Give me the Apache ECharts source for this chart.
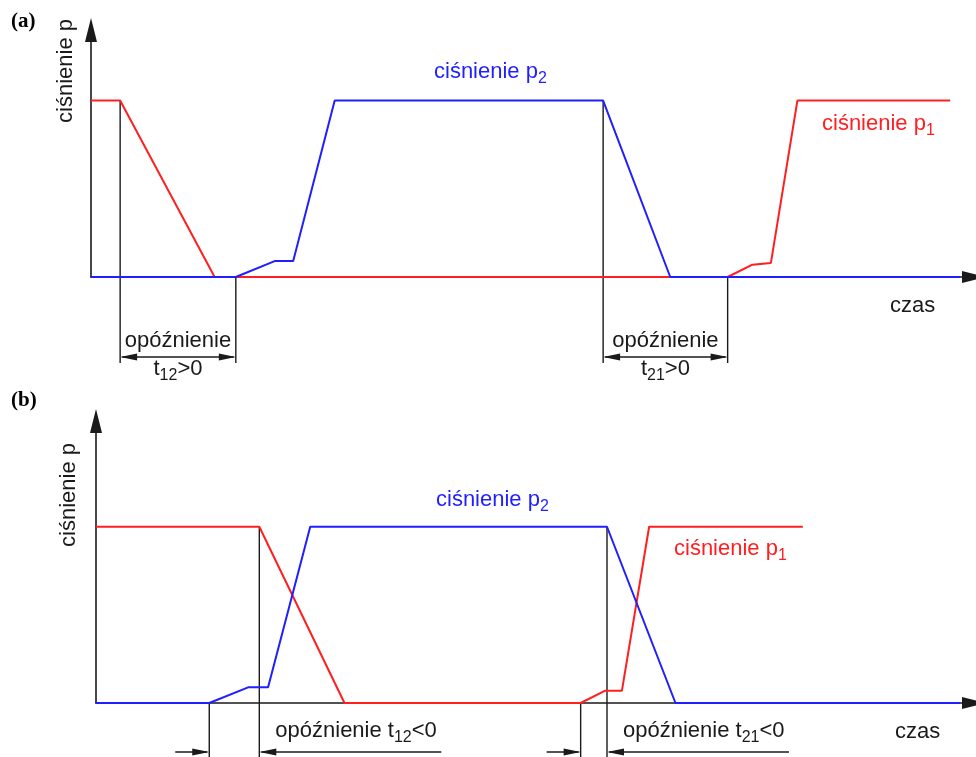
<!DOCTYPE html>
<html>
<head>
<meta charset="utf-8">
<title>ciśnienie p1 / p2 – opóźnienie przełączania</title>
<script src="https://cdn.jsdelivr.net/npm/echarts@6/dist/echarts.min.js"></script>
<style>
  html, body { margin: 0; padding: 0; background: #fff; }
  #chart { width: 976px; height: 757px; }
</style>
</head>
<body>
<div id="chart"></div>
<script>
// Time runs 0..100 (arbitrary units); pressure: 0 = low level, 1 = high level.

// (a) switching with positive delays
const p1A = [[0, 1], [3.3, 1], [14.0, 0], [72.1, 0], [74.9, 0.07], [77.0, 0.08], [80.0, 1], [97.3, 1]];
const p2A = [[0, 0], [16.4, 0], [20.8, 0.09], [22.9, 0.09], [27.6, 1], [58.0, 1], [65.6, 0], [98.4, 0]];

// (b) switching with negative delays (the two pressures overlap)
const p1B = [[0, 1], [18.6, 1], [28.3, 0], [55.2, 0], [58.0, 0.07], [59.9, 0.07], [63.0, 1], [80.5, 1]];
const p2B = [[0, 0], [12.9, 0], [17.4, 0.09], [19.6, 0.09], [24.4, 1], [58.2, 1], [66.0, 0], [98.4, 0]];

// delay brackets: between the moment one pressure starts changing and the other one follows
const delayA = [
  { start: p1A[1], end: p2A[1], sub: '12', sign: '>0' },
  { start: p2A[5], end: p1A[3], sub: '21', sign: '>0' }
];
const delayB = [
  { start: p2B[1], end: p1B[1], sub: '12', sign: '<0' },
  { start: p1B[3], end: p2B[5], sub: '21', sign: '<0' }
];

const delayWord = 'opóźnienie';
const yTitle = 'ciśnienie p';
const xTitle = 'czas';
const seriesTitle = 'ciśnienie p';

const FONT = "'Liberation Sans', Arial, Helvetica, sans-serif";
const SERIF = "'Liberation Serif', 'DejaVu Serif', serif";
const INK = '#1a1a1a';
const RED = '#ff1f1f';
const BLUE = '#1f1fff';
const FS = 22, SUB = 16;

function rich(color) {
  return {
    m: { fontSize: FS, fontFamily: FONT, fill: color, color: color },
    s: { fontSize: SUB, fontFamily: FONT, fill: color, color: color, padding: [13, 0, 0, 0] }
  };
}

function vline(x, y1, y2) {
  return { type: 'line', shape: { x1: x, y1: y1, x2: x, y2: y2 }, style: { stroke: INK, lineWidth: 1.4 } };
}
function hline(x1, x2, y) {
  return { type: 'line', shape: { x1: x1, y1: y, x2: x2, y2: y }, style: { stroke: INK, lineWidth: 1.4 } };
}
// filled arrow head; dir = +1 points right, -1 points left
function head(tipX, y, dir) {
  const L = 17, W = 3.5;
  return {
    type: 'polygon',
    shape: { points: [[tipX, y], [tipX - dir * L, y - W], [tipX - dir * L, y + W]] },
    style: { fill: INK }
  };
}

function bracketData(list) {
  return list.map(function (d) { return [d.start[0], d.start[1], d.end[0], d.end[1]]; });
}

// (a): both verticals joined by a double arrow, label above and below it
function renderPositive(params, api) {
  const d = delayA[params.dataIndex];
  const s = api.coord([api.value(0), api.value(1)]);
  const e = api.coord([api.value(2), api.value(3)]);
  const base = api.coord([0, 0])[1];
  const yBot = base + 86, yArr = base + 80, mid = (s[0] + e[0]) / 2;
  return {
    type: 'group',
    children: [
      vline(s[0], s[1], yBot),
      vline(e[0], e[1], yBot),
      hline(s[0] + 2, e[0] - 2, yArr),
      head(s[0], yArr, -1),
      head(e[0], yArr, 1),
      { type: 'text', style: { text: delayWord, x: mid, y: base + 64, align: 'center', verticalAlign: 'middle',
        fontSize: FS, fontFamily: FONT, fill: INK } },
      { type: 'text', style: { text: '{m|t}{s|' + d.sub + '}{m|' + d.sign + '}', x: mid, y: base + 92,
        align: 'center', verticalAlign: 'middle', fontSize: FS, fontFamily: FONT, fill: INK, rich: rich(INK) } }
    ]
  };
}

// (b): arrows point inwards from outside, label to the right
function renderNegative(params, api) {
  const d = delayB[params.dataIndex];
  const s = api.coord([api.value(0), api.value(1)]);
  const e = api.coord([api.value(2), api.value(3)]);
  const base = api.coord([0, 0])[1];
  const yBot = base + 60, yArr = base + 49;
  return {
    type: 'group',
    children: [
      vline(s[0], s[1], yBot),
      vline(e[0], e[1], yBot),
      hline(s[0] - 34, s[0] - 2, yArr),
      head(s[0], yArr, 1),
      hline(e[0] + 2, e[0] + 182, yArr),
      head(e[0], yArr, -1),
      { type: 'text', style: { text: '{m|' + delayWord + ' t}{s|' + d.sub + '}{m|' + d.sign + '}', x: e[0] + 16, y: base + 28,
        align: 'left', verticalAlign: 'middle', fontSize: FS, fontFamily: FONT, fill: INK, rich: rich(INK) } }
    ]
  };
}

function axisPair(gridIndex, yMax) {
  const line = { show: true, lineStyle: { color: INK, width: 1.6 }, symbol: ['none', 'triangle'], symbolSize: [12, 24] };
  return {
    x: { type: 'value', gridIndex: gridIndex, min: 0, max: 100, axisLine: line, axisTick: { show: false },
         axisLabel: { show: false }, splitLine: { show: false } },
    y: { type: 'value', gridIndex: gridIndex, min: 0, max: yMax, axisLine: line, axisTick: { show: false },
         axisLabel: { show: false }, splitLine: { show: false } }
  };
}

const axA = axisPair(0, 1.4);
const axB = axisPair(1, 1.6);

function pressureLine(name, data, color, idx) {
  return {
    type: 'line', name: name, data: data, xAxisIndex: idx, yAxisIndex: idx,
    symbol: 'none', clip: false, z: 3,
    lineStyle: { color: color, width: 2 }
  };
}

function label(text, sub, x, y, color, align) {
  return {
    type: 'text', x: x, y: y, z: 10,
    style: { text: '{m|' + text + '}{s|' + sub + '}', align: align || 'left', verticalAlign: 'middle',
      fontSize: FS, fontFamily: FONT, fill: color, rich: rich(color) }
  };
}
function plain(text, x, y, opts) {
  return Object.assign({
    type: 'text', x: x, y: y, z: 10,
    style: { text: text, align: 'left', verticalAlign: 'middle', fontSize: FS, fontFamily: FONT, fill: INK }
  }, opts || {});
}
function panelTag(text, x, y) {
  return {
    type: 'text', x: x, y: y, z: 10,
    style: { text: text, align: 'left', verticalAlign: 'middle', fontSize: 21, fontWeight: 'bold', fontFamily: SERIF, fill: '#000' }
  };
}
function rotatedTitle(x, y) {
  return {
    type: 'text', x: x, y: y, z: 10, rotation: Math.PI / 2,
    style: { text: yTitle, align: 'center', verticalAlign: 'middle', fontSize: FS, fontFamily: FONT, fill: INK }
  };
}

const chart = echarts.init(document.getElementById('chart'), null, { renderer: 'canvas' });
chart.setOption({
  animation: false,
  backgroundColor: '#fff',
  grid: [
    { left: 91, top: 30, width: 883, height: 247 },
    { left: 96, top: 421, width: 878, height: 282 }
  ],
  xAxis: [axA.x, axB.x],
  yAxis: [axA.y, axB.y],
  series: [
    { type: 'custom', xAxisIndex: 0, yAxisIndex: 0, z: 1, clip: false, data: bracketData(delayA), renderItem: renderPositive },
    { type: 'custom', xAxisIndex: 1, yAxisIndex: 1, z: 1, clip: false, data: bracketData(delayB), renderItem: renderNegative },
    pressureLine('p1 (a)', p1A, RED, 0),
    pressureLine('p2 (a)', p2A, BLUE, 0),
    pressureLine('p1 (b)', p1B, RED, 1),
    pressureLine('p2 (b)', p2B, BLUE, 1)
  ],
  graphic: [
    panelTag('(a)', 11, 22),
    panelTag('(b)', 11, 401),
    rotatedTitle(66, 71),
    rotatedTitle(69, 495),
    plain(xTitle, 890, 306),
    plain(xTitle, 895, 732),
    label(seriesTitle, '2', 434, 72, BLUE),
    label(seriesTitle, '1', 822, 124, RED),
    label(seriesTitle, '2', 436, 500, BLUE),
    label(seriesTitle, '1', 674, 549, RED)
  ]
});
</script>
</body>
</html>
